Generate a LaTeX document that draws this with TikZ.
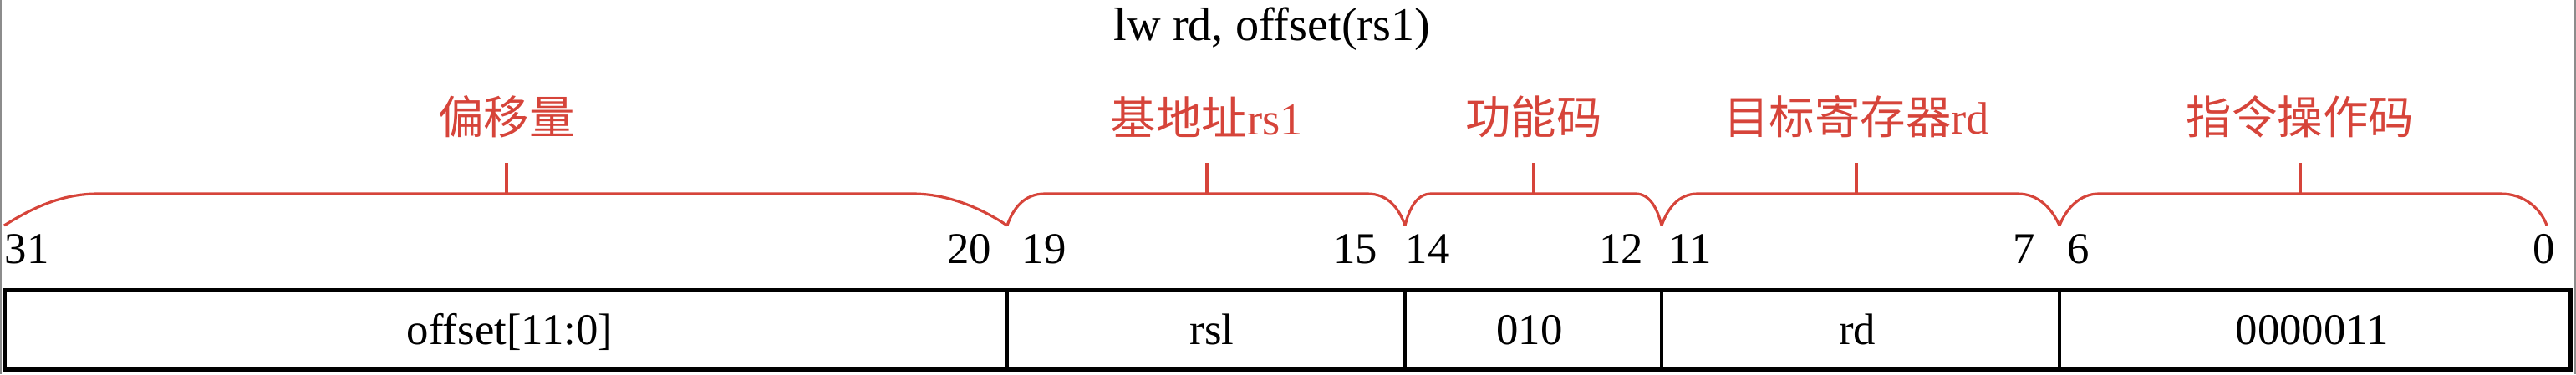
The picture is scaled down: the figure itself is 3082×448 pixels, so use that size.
\documentclass[tikz,border=0pt]{standalone}
\usepackage{fontspec}
\setmainfont{Liberation Serif}
\newfontfamily\cjk{Noto Sans CJK SC}
\definecolor{bracered}{RGB}{214,68,58}
\definecolor{edgegray}{RGB}{140,140,140}
\tikzset{
  bitno/.style={font=\fontsize{15pt}{18pt}\selectfont, inner sep=0pt},
  field/.style={font=\fontsize{15pt}{18pt}\selectfont, inner sep=0pt, anchor=base},
  part/.style={font=\fontsize{15.5pt}{18pt}\selectfont, text=bracered, inner sep=0pt},
  braceline/.style={bracered, line width=0.9pt},
}
\begin{document}
\begin{tikzpicture}[x=0.01cm, y=-0.01cm]
	  \useasboundingbox (0,0) rectangle (3082,448);
	  \draw [edgegray, line width=0.8pt] (1,0)--(1,448);
	  \draw [edgegray, line width=0.8pt] (3081,0)--(3081,448);

	  \node [field, font=\fontsize{16pt}{19pt}\selectfont] (instr) at (1522,48) {lw rd, offset(rs1)};

	  \node [part] (offlbl) at (606,140) {\cjk 偏移量};
	  \node [part] (rs1lbl) at (1444,140) {\cjk 基地址\normalfont rs1};
	  \node [part] (funlbl) at (1835,140) {\cjk 功能码};
	  \node [part] (rdlbl) at (2221,140) {\cjk 目标寄存器\normalfont rd};
	  \node [part] (oplbl) at (2752,140) {\cjk 指令操作码};

	  \draw [braceline] (5,270) .. controls (40,248) and (75,232) .. (117,232) -- (1092,232) .. controls (1135,232) and (1175,250) .. (1205,270);
	  \draw [braceline] (1205,270) .. controls (1212,250) and (1225,232) .. (1250,232) -- (1636,232) .. controls (1661,232) and (1674,250) .. (1681,270);
	  \draw [braceline] (1681,270) .. controls (1686,250) and (1695,232) .. (1712,232) -- (1957,232) .. controls (1974,232) and (1983,250) .. (1988,270);
	  \draw [braceline] (1988,270) .. controls (1995,250) and (2008,232) .. (2031,232) -- (2414,232) .. controls (2439,232) and (2455,250) .. (2464,270);
	  \draw [braceline] (2464,270) .. controls (2472,250) and (2488,232) .. (2511,232) -- (2992,232) .. controls (3020,232) and (3040,250) .. (3047,270);

	  \draw [braceline] (606,232)--(606,195);
	  \draw [braceline] (1444,232)--(1444,195);
	  \draw [braceline] (1835,232)--(1835,195);
	  \draw [braceline] (2221,232)--(2221,195);
	  \draw [braceline] (2752,232)--(2752,195);

	  \node [bitno, anchor=base west] (b31) at (5,315) {31};
	  \node [bitno, anchor=base east] (b20) at (1187,315) {20};
	  \node [bitno, anchor=base west] (b19) at (1222,315) {19};
	  \node [bitno, anchor=base east] (b15) at (1649,315) {15};
	  \node [bitno, anchor=base west] (b14) at (1681,315) {14};
	  \node [bitno, anchor=base east] (b12) at (1967,315) {12};
	  \node [bitno, anchor=base west] (b11) at (1996,315) {11};
	  \node [bitno, anchor=base east] (b7) at (2436,315) {7};
	  \node [bitno, anchor=base west] (b6) at (2473,315) {6};
	  \node [bitno, anchor=base east] (b0) at (3058,315) {0};

	  \draw [line width=1.4pt] (6,347.5) rectangle (3075,442.5);
	  \draw [line width=1.1pt] (1205,347.5)--(1205,442.5);
	  \draw [line width=1.1pt] (1681,347.5)--(1681,442.5);
	  \draw [line width=1.1pt] (1988,347.5)--(1988,442.5);
	  \draw [line width=1.1pt] (2464,347.5)--(2464,442.5);

	  \node [field] (offset) at (610,412) {offset[11:0]};
	  \node [field] (rsl) at (1450,412) {rsl};
	  \node [field] (funct) at (1830,412) {010};
	  \node [field] (rd) at (2222,412) {rd};
	  \node [field] (opcode) at (2766,412) {0000011};
\end{tikzpicture}
\end{document}
